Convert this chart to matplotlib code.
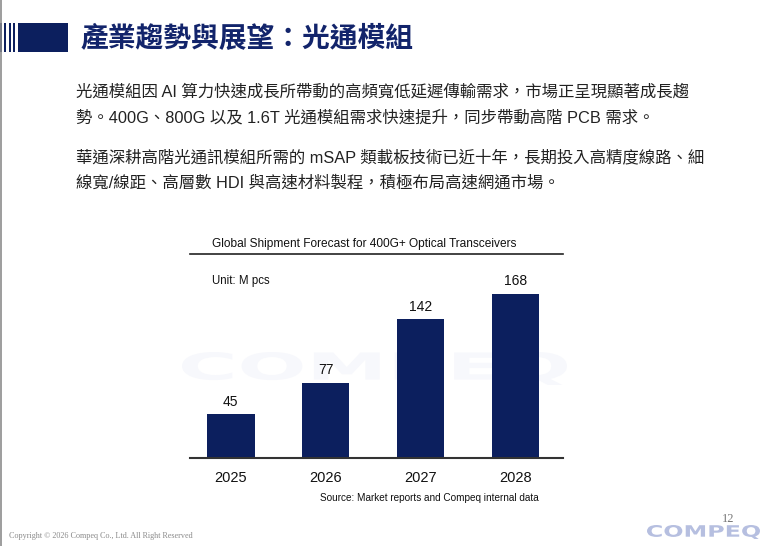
import matplotlib.pyplot as plt
from matplotlib.textpath import TextPath
from matplotlib.patches import PathPatch, Rectangle
from matplotlib.transforms import Affine2D
from matplotlib.font_manager import FontProperties

plt.rcParams['font.family'] = ['Liberation Sans', 'Noto Sans CJK TC', 'DejaVu Sans']

# chart data
years = ['2025', '2026', '2027', '2028']
shipments = [45, 77, 142, 168]

title = '產業趨勢與展望：光通模組'
body_lines = [
    '光通模組因 AI 算力快速成長所帶動的高頻寬低延遲傳輸需求，市場正呈現顯著成長趨',
    '勢。400G、800G 以及 1.6T 光通模組需求快速提升，同步帶動高階 PCB 需求。',
    '華通深耕高階光通訊模組所需的 mSAP 類載板技術已近十年，長期投入高精度線路、細',
    '線寬/線距、高層數 HDI 與高速材料製程，積極布局高速網通市場。',
]
chart_title = 'Global Shipment Forecast for 400G+ Optical Transceivers'
unit_label = 'Unit: M pcs'
source_label = 'Source: Market reports and Compeq internal data'
copyright_label = 'Copyright © 2026 Compeq Co., Ltd. All Right Reserved'
page_no = '12'

NAVY = '#0c1f5e'
W, H = 780, 546

fig = plt.figure(figsize=(7.8, 5.46), dpi=100)
fig.patch.set_facecolor('white')

# slide layer in pixel coordinates
bg = fig.add_axes([0, 0, 1, 1])
bg.set_xlim(0, W)
bg.set_ylim(H, 0)
bg.axis('off')


def fit_text(ax, s, x0, y0, x1, y1, color):
    # stretch a text outline into a pixel box
    tp = TextPath((0, 0), s, size=10,
                  prop=FontProperties(family='DejaVu Sans', weight='bold'))
    bb = tp.get_extents()
    tr = (Affine2D().translate(-bb.x0, -bb.y0)
          .scale((x1 - x0) / bb.width, -(y1 - y0) / bb.height)
          .translate(x0, y1))
    ax.add_patch(PathPatch(tr.transform_path(tp), color=color, lw=0))


# left border
bg.plot([0.5, 0.5], [0, H], color='#8c8c8c', lw=1.2)

# header stripes and block
for x, w in [(0, 1.5), (4.3, 1.8), (9, 2), (13.3, 2), (18.3, 50)]:
    bg.add_patch(Rectangle((x, 23.3), w, 28.4, color=NAVY, lw=0))
bg.text(81, 39, title, fontsize=20, fontweight='bold', color='#12246b',
        va='center', ha='left')

# body text
for y, line in zip([92, 118, 157, 183], body_lines):
    bg.text(76, y, line, fontsize=11.8, color='#222222', va='center', ha='left')

# watermark
fit_text(bg, 'COMPEQ', 182, 352, 567, 385, '#f7f8fc')

# chart captions
bg.text(212, 244, chart_title, fontsize=8.6, color='#111111', va='center')
bg.text(212, 281, unit_label, fontsize=8.3, color='#111111', va='center')
bg.text(320, 498, source_label, fontsize=7.2, color='#111111', va='center')

# footer
bg.text(9, 536, copyright_label, fontsize=5.85, family='Liberation Serif',
        color='#8a8a8a', va='center')
bg.text(728, 519, page_no, fontsize=9, family='Liberation Serif',
        color='#777777', va='center', ha='center')
fit_text(bg, 'COMPEQ', 647, 525, 760, 539, '#b6bfe0')

# bar chart
ax = fig.add_axes([190 / W, (H - 458) / H, 373 / W, 204 / H])
ax.set_facecolor('none')
xs = range(len(years))
bars = ax.bar(xs, shipments, width=0.5, color=NAVY)
ax.set_xlim(-0.43, 3.5)
ax.set_ylim(0, 209)
ax.bar_label(bars, padding=4, fontsize=10, color='#111111')
ax.set_xticks(list(xs), years, fontsize=10.5, color='#111111')
ax.tick_params(axis='x', length=0, pad=9)
ax.set_yticks([])
for side in ['left', 'right']:
    ax.spines[side].set_visible(False)
ax.spines['top'].set_color('#222222')
ax.spines['top'].set_linewidth(1.2)
ax.spines['bottom'].set_color('#333333')
ax.spines['bottom'].set_linewidth(1.5)

fig.savefig('out.png', dpi=100)
